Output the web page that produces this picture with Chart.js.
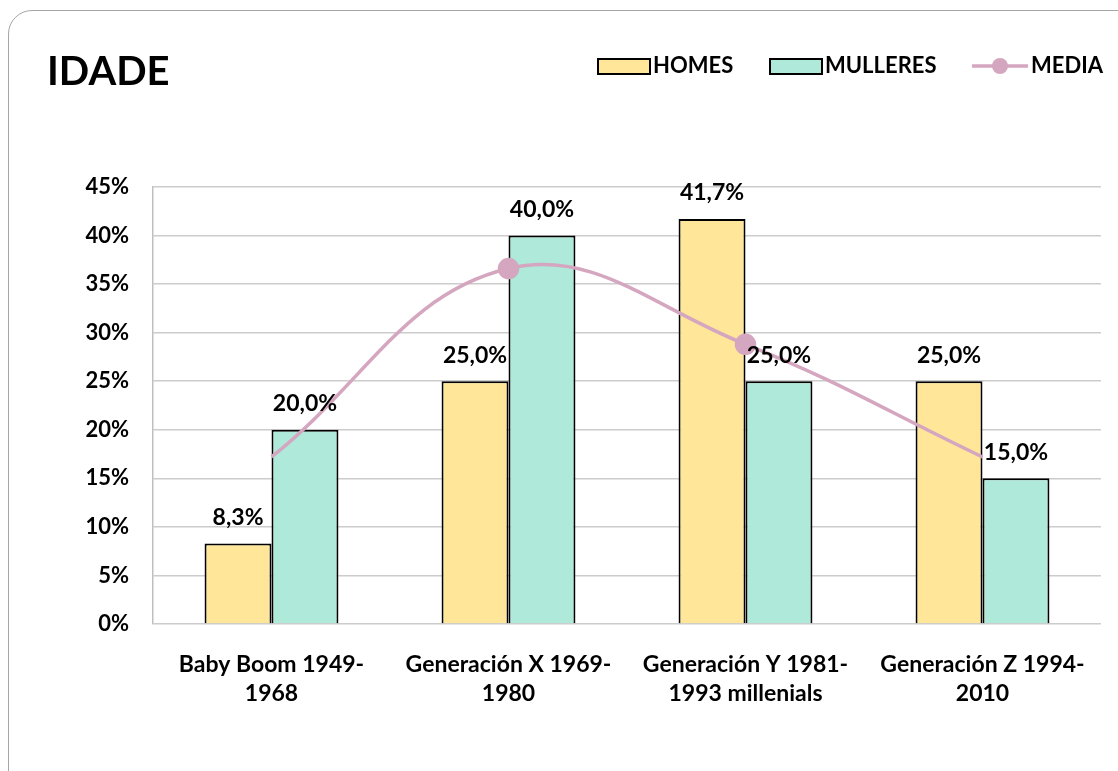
<!DOCTYPE html>
<html>
<head>
<meta charset="utf-8">
<script src="https://cdn.jsdelivr.net/npm/chart.js@4"></script>
<style>
  html, body { margin: 0; padding: 0; background: #fff; overflow: hidden; }
  .frame {
    position: absolute; left: 8px; top: 10px; width: 1140px; height: 790px;
    border: 1.5px solid #a6a6a6; border-radius: 24px; box-sizing: border-box;
  }
  .wrap { position: absolute; left: 0; top: 0; width: 1118px; height: 771px; }
</style>
</head>
<body>
<div class="frame"></div>
<div class="wrap"><canvas id="idade"></canvas></div>
<script>
const categories = [
    ['Baby Boom 1949-', '1968'],
    ['Generación X 1969-', '1980'],
    ['Generación Y 1981-', '1993 millenials'],
    ['Generación Z 1994-', '2010']
];
const homes = [8.3, 25.0, 41.7, 25.0];
const mulleres = [20.0, 40.0, 25.0, 15.0];
const media = [17.2, 36.6, 28.8, 17.2];
const yTicks = [0, 5, 10, 15, 20, 25, 30, 35, 40, 45];

const FONT = 'Lato, "Open Sans", sans-serif';
const YELLOW = '#FFE699';
const TEAL = '#AEE9D9';
const PINK = '#D5A6BF';

// etiquetas de datos enriba das barras
const barLabels = {
    id: 'barLabels',
    afterDatasetsDraw(chart) {
        const ctx = chart.ctx;
        ctx.save();
        ctx.font = 'bold 23px ' + FONT;
        ctx.fillStyle = '#000';
        ctx.textAlign = 'center';
        ctx.textBaseline = 'middle';
        chart.data.datasets.forEach((ds, i) => {
            if (ds.type === 'line') return;
            chart.getDatasetMeta(i).data.forEach((bar, j) => {
                const txt = ds.data[j].toFixed(1).replace('.', ',') + '%';
                ctx.fillText(txt, bar.x, bar.y - 26);
            });
        });
        ctx.restore();
    }
};

// título e lenda debuxados a man
const header = {
    id: 'header',
    afterDraw(chart) {
        const ctx = chart.ctx;
        ctx.save();
        ctx.fillStyle = '#000';
        ctx.textBaseline = 'middle';
        ctx.textAlign = 'left';
        ctx.font = 'bold 40px ' + FONT;
        ctx.fillText('IDADE', 47, 72);

        ctx.font = 'bold 22px ' + FONT;
        const y = 66;
        // HOMES
        ctx.fillStyle = YELLOW;
        ctx.fillRect(598, y - 7, 52, 15);
        ctx.strokeStyle = '#000';
        ctx.lineWidth = 2;
        ctx.strokeRect(598, y - 7, 52, 15);
        ctx.fillStyle = '#000';
        ctx.fillText('HOMES', 653, y);
        // MULLERES
        ctx.fillStyle = TEAL;
        ctx.fillRect(770, y - 7, 52, 15);
        ctx.strokeRect(770, y - 7, 52, 15);
        ctx.fillStyle = '#000';
        ctx.fillText('MULLERES', 825, y);
        // MEDIA
        ctx.strokeStyle = PINK;
        ctx.lineWidth = 3.5;
        ctx.beginPath();
        ctx.moveTo(972, y);
        ctx.lineTo(1028, y);
        ctx.stroke();
        ctx.fillStyle = PINK;
        ctx.beginPath();
        ctx.arc(1000, y, 8, 0, Math.PI * 2);
        ctx.fill();
        ctx.fillStyle = '#000';
        ctx.fillText('MEDIA', 1031, y);
        ctx.restore();
    }
};

const config = {
    type: 'bar',
    data: {
        labels: categories,
        datasets: [
            {
                type: 'line',
                label: 'MEDIA',
                data: media,
                borderColor: PINK,
                backgroundColor: PINK,
                borderWidth: 3.5,
                tension: 0.4,
                pointRadius: c => (c.dataIndex === 1 || c.dataIndex === 2) ? 9 : 0,
                pointHoverRadius: 0,
                order: 0
            },
            {
                label: 'HOMES',
                data: homes,
                backgroundColor: YELLOW,
                borderColor: '#000',
                borderWidth: 2,
                order: 1
            },
            {
                label: 'MULLERES',
                data: mulleres,
                backgroundColor: TEAL,
                borderColor: '#000',
                borderWidth: 2,
                order: 1
            }
        ]
    },
    options: {
        responsive: true,
        maintainAspectRatio: false,
        animation: false,
        datasets: {
            bar: { barPercentage: 1, categoryPercentage: 0.565 }
        },
        layout: { padding: { top: 187, right: 17, left: 0, bottom: 0 } },
        plugins: {
            legend: { display: false },
            title: { display: false },
            tooltip: { enabled: false }
        },
        scales: {
            x: {
                grid: { display: false },
                border: { display: false },
                ticks: {
                    color: '#000',
                    font: { family: FONT, size: 23, weight: 'bold', lineHeight: 1.27 },
                    padding: 18,
                    maxRotation: 0,
                    autoSkip: false
                },
                afterFit: s => { s.height = 147; }
            },
            y: {
                min: 0,
                max: 45,
                afterBuildTicks: s => { s.ticks = yTicks.map(v => ({ value: v })); },
                grid: { color: '#cccccc', lineWidth: 1.5, drawTicks: false },
                border: { display: true, color: '#bfbfbf', width: 1.5 },
                ticks: {
                    color: '#000',
                    font: { family: FONT, size: 22, weight: 'bold' },
                    padding: 24,
                    callback: v => v + '%'
                },
                afterFit: s => { s.width = 153; }
            }
        }
    },
    plugins: [barLabels, header]
};

new Chart(document.querySelector('#idade'), config);
</script>
</body>
</html>
